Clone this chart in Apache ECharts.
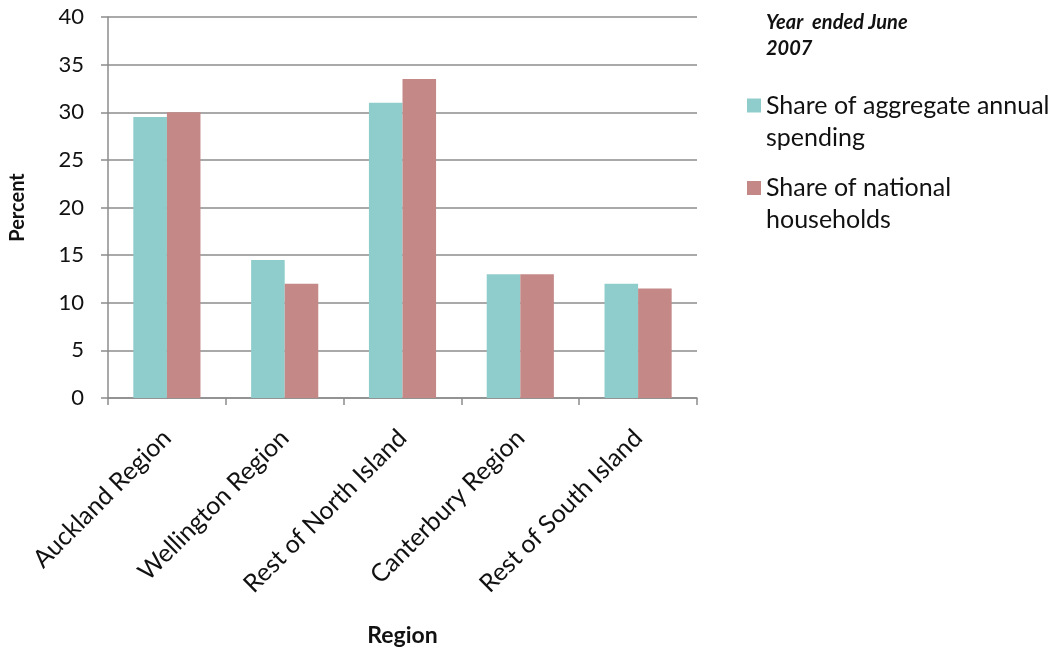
<!DOCTYPE html>
<html>
<head>
<meta charset="utf-8">
<script src="https://cdn.jsdelivr.net/npm/echarts@6/dist/echarts.min.js"></script>
<style>
  html, body { margin: 0; padding: 0; background: #fff; }
  #chart { width: 1053px; height: 652px; }
</style>
</head>
<body>
<div id="chart"></div>
<script>
// Regional shares, year ended June 2007
const regions = ['Auckland Region', 'Wellington Region', 'Rest of North Island', 'Canterbury Region', 'Rest of South Island'];
const spendingShare = [29.5, 14.5, 31, 13, 12];
const householdShare = [30, 12, 33.5, 13, 11.5];
const seriesNames = ['Share of aggregate annual\nspending', 'Share of national\nhouseholds'];
const yTicks = [0, 5, 10, 15, 20, 25, 30, 35, 40];

const FONT = 'Lato, "Open Sans", sans-serif';
const TEAL = '#8ecdcb';
const ROSE = '#c48887';
const GRID_GRAY = '#8c8c8c';
const LEG_LINE = 32;

const chart = echarts.init(document.getElementById('chart'));

// One legend per series; a blank first line keeps the swatch beside the
// first line of the wrapped label (the swatch centres on the text block).
function legendFor(name, iconCenterY) {
  return {
    orient: 'vertical',
    left: 747,
    top: iconCenterY - 1.5 * LEG_LINE,
    data: [name],
    icon: 'rect',
    itemWidth: 14,
    itemHeight: 14,
    itemGap: 0,
    padding: 0,
    formatter: n => '\n' + n,
    textStyle: {
      fontFamily: FONT,
      fontSize: 25,
      color: '#111',
      lineHeight: LEG_LINE
    }
  };
}

chart.setOption({
  animation: false,
  backgroundColor: '#fff',
  textStyle: { fontFamily: FONT },
  title: {
    text: 'Year  ended June\n2007',
    left: 766,
    top: 10,
    padding: 0,
    textStyle: {
      fontFamily: FONT,
      fontSize: 20,
      fontWeight: 'bold',
      fontStyle: 'italic',
      color: '#111',
      lineHeight: 26
    }
  },
  legend: [legendFor(seriesNames[0], 105.5), legendFor(seriesNames[1], 188)],
  grid: { left: 107, right: 356, top: 17, bottom: 252 },
  xAxis: {
    type: 'category',
    data: regions,
    name: 'Region',
    nameLocation: 'middle',
    nameGap: 226,
    nameTextStyle: { fontFamily: FONT, fontSize: 23, fontWeight: 'bold', color: '#111' },
    axisLine: { lineStyle: { color: GRID_GRAY, width: 1.5 } },
    axisTick: { show: true, length: 7, alignWithLabel: false, lineStyle: { color: GRID_GRAY, width: 1.5 } },
    axisLabel: { rotate: 45, margin: 36, fontFamily: FONT, fontSize: 25, color: '#111', interval: 0 }
  },
  yAxis: {
    type: 'value',
    min: 0,
    max: 40,
    interval: 5,
    name: 'Percent',
    nameLocation: 'middle',
    nameGap: 80,
    nameRotate: 90,
    nameTextStyle: { fontFamily: FONT, fontSize: 20, fontWeight: 'bold', color: '#111' },
    axisLine: { show: true, lineStyle: { color: GRID_GRAY, width: 1.5 } },
    axisTick: { show: true, length: 7, lineStyle: { color: GRID_GRAY, width: 1.5 } },
    axisLabel: {
      margin: 24, fontFamily: FONT, fontSize: 22, color: '#111',
      formatter: v => (yTicks.indexOf(v) >= 0 ? String(v) : '')
    },
    splitLine: { show: true, lineStyle: { color: GRID_GRAY, width: 1.5 } }
  },
  series: [
    {
      name: seriesNames[0],
      type: 'bar',
      data: spendingShare,
      itemStyle: { color: TEAL },
      barGap: '0%',
      barCategoryGap: '43%'
    },
    {
      name: seriesNames[1],
      type: 'bar',
      data: householdShare,
      itemStyle: { color: ROSE },
      barGap: '0%',
      barCategoryGap: '43%'
    }
  ]
});
</script>
</body>
</html>
